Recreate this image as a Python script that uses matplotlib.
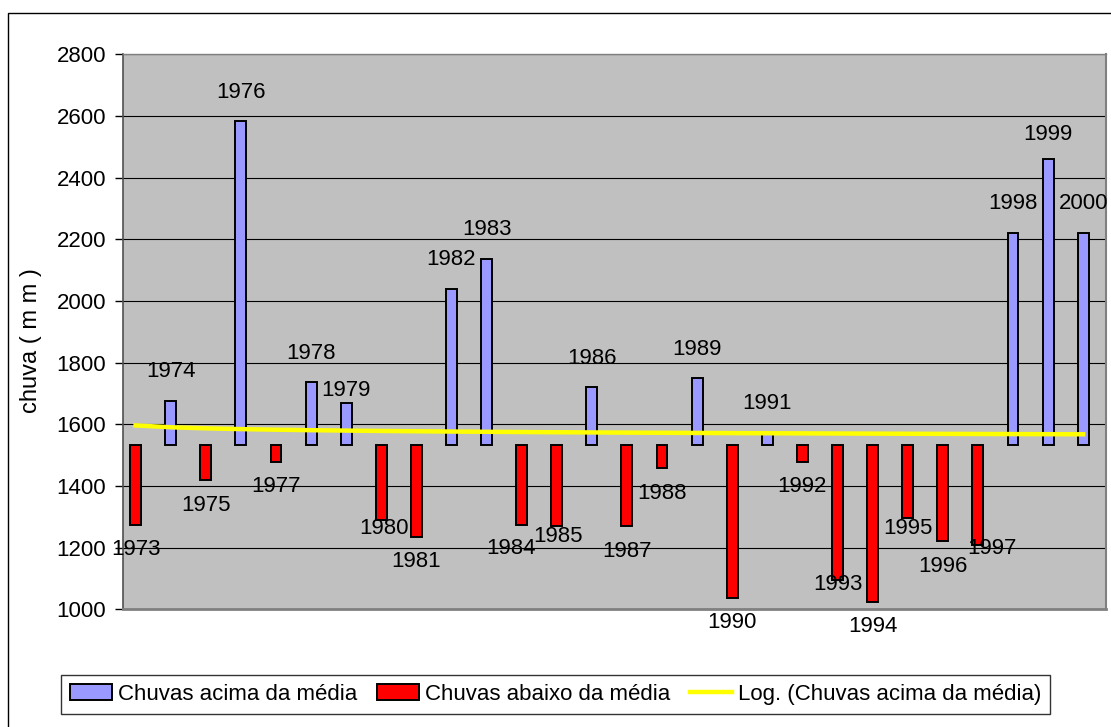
"""
Chuvas anuais 1973-2000: desvios em relação à média
"""
import numpy as np
import matplotlib.pyplot as plt
from matplotlib.patches import Patch, Rectangle
from matplotlib.lines import Line2D

plt.rcParams['font.family'] = ['Liberation Sans', 'DejaVu Sans']

anos = list(range(1973, 2001))
chuva = [1274, 1676, 1418, 2583, 1479, 1737, 1668, 1291, 1235, 2040,
         2137, 1274, 1269, 1720, 1269, 1457, 1750, 1038, 1572, 1479,
         1094, 1024, 1297, 1221, 1208, 2222, 2459, 2222]
media = 1533

serie_acima = 'Chuvas acima da média'
serie_abaixo = 'Chuvas abaixo da média'
serie_trend = 'Log. (Chuvas acima da média)'

# label nudges (pixels) where the labels were moved by hand
label_nudge = {1979: (0, 13), 1980: (3, -9), 1984: (-11, -24), 1985: (1, -10),
               1993: (0, -4), 1995: (0, -11), 1997: (14, -3), 1999: (0, 25)}

x = np.arange(len(anos))
valores = np.array(chuva, dtype=float)
acima = valores > media

fig = plt.figure(figsize=(11.11, 7.27), dpi=100)
ax = fig.add_axes([123.3 / 1111, 1 - 609.3 / 727,
                   (1106 - 123.3) / 1111, (609.3 - 54.3) / 727])
ax.set_facecolor('#C0C0C0')

ax.bar(x[acima], valores[acima] - media, bottom=media, width=0.31,
       color='#9999FF', edgecolor='black', linewidth=1.4, zorder=3)
ax.bar(x[~acima], valores[~acima] - media, bottom=media, width=0.31,
       color='#FF0000', edgecolor='black', linewidth=1.4, zorder=3)

###############################################################################
# logarithmic trendline, as the spreadsheet computes it
coef = np.polyfit(np.log(x + 1), valores, 1)
trend = coef[0] * np.log(x + 1) + coef[1]
ax.plot(x, trend, color='#FFFF00', lw=3.2, zorder=4)

for xi, ano, v, up in zip(x, anos, valores, acima):
    dx, dy = label_nudge.get(ano, (0, 29) if up else (0, -25))
    ax.annotate(str(ano), (xi, v), xytext=(dx, dy), textcoords='offset pixels',
                ha='center', va='center', fontsize=16, zorder=5,
                annotation_clip=False)

ax.set_ylim(1000, 2800)
ax.set_yticks(range(1000, 2801, 200))
ax.set_xlim(-0.35, 27.65)
ax.set_xticks([])
ax.yaxis.grid(True, color='black', lw=0.8)
ax.set_axisbelow(True)
ax.tick_params(axis='y', direction='out', length=5.5, width=1, pad=7,
               labelsize=16)
ax.spines['left'].set_color('#505050')
ax.spines['left'].set_linewidth(1.2)
ax.spines['bottom'].set_color('#808080')
ax.spines['bottom'].set_linewidth(2)
ax.spines['right'].set_color('#808080')
ax.spines['right'].set_linewidth(1.5)
ax.spines['top'].set_color('#808080')
ax.spines['top'].set_linewidth(1)

fig.text(31 / 1111, 1 - 341 / 727, 'chuva ( m m )', rotation=90,
         ha='center', va='center', fontsize=17)

handles = [Patch(facecolor='#9999FF', edgecolor='black', linewidth=1.4),
           Patch(facecolor='#FF0000', edgecolor='black', linewidth=1.4),
           Line2D([], [], color='#FFFF00', lw=3.2)]
leg = fig.legend(handles, [serie_acima, serie_abaixo, serie_trend],
                 loc='center', bbox_to_anchor=(0.5, 1 - 694.5 / 727), ncol=3,
                 fontsize=16, frameon=True, fancybox=False, edgecolor='black',
                 handlelength=1.9, handletextpad=0.25, columnspacing=0.9,
                 borderpad=0.4)
leg.get_frame().set_linewidth(1)

# chart area border (runs off the right and bottom of the picture)
fig.patches.append(Rectangle((8 / 1111, -0.5), 2, (727 - 12.7) / 727 + 0.5,
                             transform=fig.transFigure, fill=False,
                             edgecolor='black', linewidth=1))

fig.savefig('out.png', dpi=100)
